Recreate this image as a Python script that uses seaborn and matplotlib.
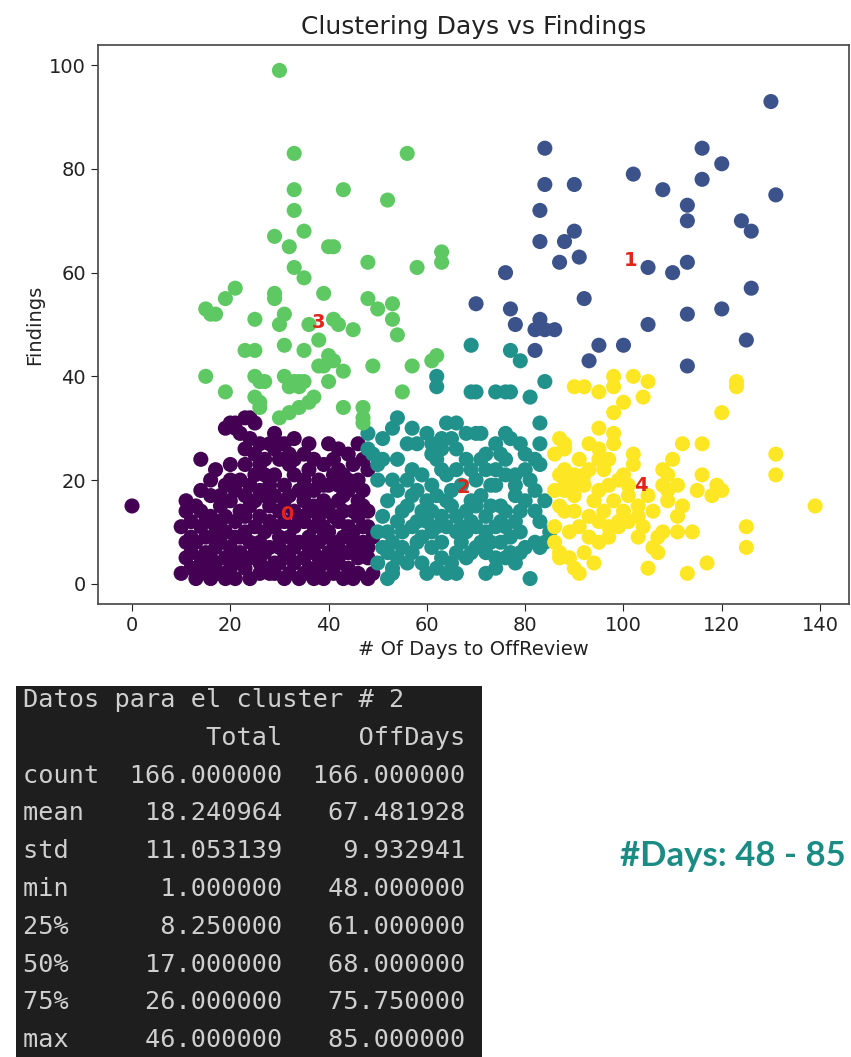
import matplotlib
matplotlib.use("Agg")
import matplotlib.pyplot as plt
import numpy as np
import pandas as pd
import seaborn as sns

# ---------------- data ----------------
# cluster 0 (purple): (days, findings)
cluster0_points = [
    (0, 15), (19, 30), (21, 31), (24, 32), (25, 31), (22, 29), (21, 30), (20, 31), (23, 32),
    (29, 29), (31, 27), (29, 26), (30, 27), (46, 27), (14, 24),
    (16, 20), (16, 17), (11, 16), (13, 15), (11, 14), (14, 11), (13, 8), (13, 3), (15, 6), (17, 9),
    (22, 20), (23, 23), (25, 25), (26, 23), (27, 21), (28, 19), (27, 17), (25, 16), (24, 15),
    (30, 24), (32, 23), (33, 24), (35, 25), (36, 22), (39, 23), (41, 24), (42, 22), (43, 21),
    (44, 20), (46, 20), (48, 22), (35, 20), (37, 18),
    (22, 14), (23, 13), (21, 12), (19, 13), (18, 12), (26, 13), (28, 12), (29, 11), (27, 10), (25, 11),
    (35, 16), (36, 14), (37, 15), (39, 16), (40, 15), (42, 16), (43, 17), (44, 18), (46, 16),
    (47, 15), (48, 14), (35, 12), (37, 11), (39, 11), (40, 10), (42, 12), (44, 11), (46, 13),
    (47, 11), (48, 11), (49, 9),
    (12, 3), (14, 5), (15, 3), (17, 4), (19, 5), (20, 3), (22, 4), (24, 5), (26, 4), (27, 6),
    (29, 4), (31, 6), (33, 7), (35, 5), (36, 3), (37, 6), (40, 6), (42, 4), (43, 6), (44, 3),
    (46, 5), (47, 6), (48, 5), (49, 2),
    (13, 1), (16, 1), (18, 2), (21, 1), (24, 1), (26, 2), (29, 2), (32, 2), (34, 1), (36, 2),
    (39, 1), (41, 2), (43, 1), (46, 2), (48, 1),
    (12, 9), (15, 9), (18, 8), (20, 7), (22, 9), (24, 8), (26, 8), (28, 7), (30, 9), (32, 9),
    (34, 8), (36, 9), (38, 8), (41, 8), (43, 9), (45, 8), (47, 8), (17, 11), (19, 10), (31, 12),
    (33, 11), (33, 14), (31, 16), (30, 14), (28, 15), (20, 16), (18, 15), (21, 18), (19, 19),
    (14, 18), (24, 19), (25, 21), (29, 21), (31, 19), (33, 21), (34, 18), (38, 20), (40, 19),
    (41, 21), (45, 23), (47, 24), (27, 24), (40, 27), (36, 27), (33, 28), (44, 25), (38, 13),
    (45, 14), (20, 23), (17, 22), (16, 13), (23, 10), (11, 5), (12, 12), (14, 14), (10, 11),
    (10, 2), (16, 5), (38, 3), (40, 4), (45, 10), (34, 13), (30, 7), (28, 2), (22, 6),
    (11, 8), (12, 6), (14, 2), (17, 2), (19, 1), (20, 5), (23, 3), (25, 6), (27, 3), (30, 4),
    (31, 1), (33, 4), (35, 2), (37, 1), (38, 5), (41, 5), (44, 6), (46, 7), (48, 7), (45, 1),
    (42, 7), (39, 9), (36, 7), (32, 5), (21, 9), (17, 7), (15, 12), (18, 17), (20, 20), (23, 17),
    (26, 18), (29, 17), (32, 17), (36, 18), (39, 19), (42, 19), (45, 19), (47, 18), (43, 14),
    (41, 13), (39, 14), (24, 28), (26, 27), (28, 27), (23, 26), (32, 25), (37, 24), (42, 26),
]

# cluster 1 (dark blue)
cluster1_points = [
    (130, 93), (84, 84), (116, 84), (120, 81), (84, 77), (90, 77), (102, 79), (108, 76),
    (116, 78), (131, 75), (83, 72), (113, 73), (113, 70), (124, 70), (126, 68), (90, 68),
    (88, 66), (83, 66), (87, 62), (91, 63), (105, 61), (110, 60), (113, 62), (76, 60),
    (92, 55), (126, 57), (70, 54), (77, 53), (78, 50), (83, 51), (82, 49), (84, 49), (86, 49),
    (113, 52), (120, 53), (105, 50), (125, 47), (95, 46), (100, 46), (93, 43), (113, 42), (82, 45),
]

# cluster 2 (teal)
cluster2_points = [
    (69, 46), (77, 45), (79, 43), (62, 40), (62, 38), (70, 37), (74, 37), (76, 37), (77, 37), (84, 39),
    (81, 36), (83, 31), (64, 31), (66, 31), (54, 32), (48, 29), (51, 28), (53, 30), (57, 30), (56, 27),
    (49, 25), (50, 23), (54, 24), (57, 22), (61, 27), (63, 28), (65, 28), (68, 29), (70, 29), (71, 29),
    (61, 25), (63, 26), (62, 24), (76, 29), (77, 28), (68, 24), (69, 22), (64, 21), (74, 27), (75, 25),
    (74, 22), (80, 25), (82, 24), (83, 23), (78, 21), (78, 19), (78, 17), (81, 20), (82, 18), (84, 16),
    (58, 18), (61, 19), (62, 17), (60, 16), (52, 16), (64, 16), (65, 15), (66, 13), (71, 17), (73, 19),
    (74, 19), (70, 15), (69, 12), (55, 14), (56, 15), (54, 12), (59, 14), (61, 14), (63, 13), (75, 15),
    (76, 14), (82, 14), (83, 12), (85, 10), (52, 10), (53, 8), (52, 6), (53, 3), (53, 2), (55, 10),
    (55, 7), (57, 6), (59, 9), (61, 10), (63, 8), (61, 7), (63, 5), (67, 8), (68, 10), (70, 7),
    (71, 8), (72, 10), (74, 11), (75, 12), (76, 11), (66, 6), (68, 5), (69, 6), (72, 6),
    (74, 5), (76, 5), (77, 6), (82, 8), (83, 7), (84, 8), (81, 1),
    (48, 26), (51, 24), (50, 20), (51, 13), (50, 10), (51, 7), (50, 4), (52, 1), (53, 20),
    (54, 18), (56, 20), (57, 17), (58, 12), (59, 4), (60, 2), (62, 3), (64, 2), (65, 4), (66, 2),
    (67, 11), (68, 14), (70, 11), (72, 13), (73, 15), (72, 2), (74, 3), (75, 8), (77, 9), (78, 12),
    (79, 10), (80, 7), (78, 4), (79, 14), (80, 16), (80, 22), (83, 27), (79, 27), (72, 25), (72, 22),
    (66, 22), (66, 26), (67, 19), (70, 20), (71, 24), (76, 21), (76, 24), (60, 29), (58, 27),
    (59, 21), (63, 22), (65, 18), (57, 11), (60, 12), (64, 11), (66, 10), (73, 8), (79, 6),
    (58, 8), (56, 4), (54, 5), (69, 16), (62, 11), (69, 37),
]

# cluster 3 (green)
cluster3_points = [
    (30, 99), (33, 83), (56, 83), (33, 76), (43, 76), (52, 74), (33, 72), (35, 68), (29, 67),
    (32, 65), (40, 65), (41, 65), (48, 62), (58, 61), (63, 64), (63, 62), (33, 61), (35, 59),
    (21, 57), (19, 55), (29, 56), (29, 55), (39, 56), (48, 55), (50, 53), (53, 54), (53, 51),
    (54, 48), (15, 53), (17, 52), (16, 52), (25, 51), (31, 52), (30, 50), (36, 50), (41, 51),
    (42, 50), (45, 49), (38, 47), (23, 45), (25, 45), (31, 46), (35, 45), (40, 44), (39, 42),
    (41, 43), (43, 41), (40, 39), (38, 42), (49, 42), (57, 42), (62, 44), (61, 43), (15, 40),
    (19, 37), (25, 40), (26, 39), (27, 39), (31, 40), (33, 39), (34, 39), (35, 39), (32, 38),
    (34, 38), (25, 36), (26, 35), (26, 34), (30, 32), (32, 33), (34, 34), (36, 35), (37, 36),
    (43, 34), (47, 34), (47, 32), (47, 31), (55, 37),
]

# cluster 4 (yellow)
cluster4_points = [
    (90, 38), (92, 38), (95, 37), (98, 40), (98, 38), (102, 40), (105, 39), (104, 36), (123, 39),
    (123, 38), (120, 33), (98, 33), (95, 30), (98, 29), (98, 27), (88, 27), (88, 26), (91, 24),
    (95, 26), (95, 24), (96, 22), (102, 25), (102, 23), (112, 27), (116, 27), (110, 24), (108, 22),
    (109, 21), (116, 21), (131, 25), (131, 21),
    (88, 22), (88, 20), (88, 18), (90, 21), (90, 19), (92, 21), (92, 19), (90, 17),
    (95, 18), (97, 19), (99, 20), (100, 21), (101, 19), (108, 19), (109, 18), (111, 19), (109, 16),
    (119, 19), (118, 17), (120, 18), (139, 15), (112, 15),
    (98, 16), (101, 17), (103, 15), (103, 13), (101, 12), (99, 12), (88, 14), (90, 14), (86, 11),
    (89, 10), (91, 11), (93, 9), (95, 12), (97, 11), (99, 11), (95, 8), (97, 9), (87, 6), (89, 5),
    (90, 3), (91, 2), (103, 9), (106, 7), (107, 6), (107, 9), (108, 10), (111, 10), (114, 10),
    (105, 3), (113, 2), (117, 4), (125, 11), (125, 7),
    (87, 28), (86, 25), (87, 21), (86, 18), (87, 15), (86, 8), (87, 5),
    (93, 13), (94, 16), (96, 14), (100, 14), (105, 17), (106, 14), (93, 22), (93, 27), (100, 35),
    (97, 24), (104, 11), (92, 6), (94, 4), (111, 13), (115, 18),
]

# cluster centre labels
center_labels = ["0", "1", "2", "3", "4"]
center_days = [31.5, 101.5, 67.5, 38.0, 103.5]
center_findings = [13.3, 62.3, 18.5, 50.3, 19.0]

# summary table of cluster 2
table_title = "Datos para el cluster # 2"
table_columns = ["Total", "OffDays"]
stat_names = ["count", "mean", "std", "min", "25%", "50%", "75%", "max"]
stat_total = [166.0, 18.240964, 11.053139, 1.0, 8.25, 17.0, 26.0, 46.0]
stat_offdays = [166.0, 67.481928, 9.932941, 48.0, 61.0, 68.0, 75.75, 85.0]
days_range_text = "#Days: 48 - 85"

# ---------------- build frame ----------------
frames = []
for k, pts in enumerate([cluster0_points, cluster1_points, cluster2_points,
                         cluster3_points, cluster4_points]):
    arr = np.array(pts, dtype=float)
    frames.append(pd.DataFrame({"OffDays": arr[:, 0], "Total": arr[:, 1], "cluster": k}))
df = pd.concat(frames, ignore_index=True)

cmap = plt.get_cmap("viridis")
palette = {k: cmap(v) for k, v in zip(range(5), np.linspace(0, 1, 5))}

# ---------------- figure ----------------
fig = plt.figure(figsize=(8.51, 10.57), dpi=100)
ax = fig.add_axes([0.115, 0.4286, 0.883, 0.5288])

sns.scatterplot(data=df, x="OffDays", y="Total", hue="cluster", palette=palette,
                s=118, linewidth=0, legend=False, ax=ax)

for lab, cx, cy in zip(center_labels, center_days, center_findings):
    ax.text(cx, cy, lab, color="#e3241b", fontsize=14, fontweight="bold",
            ha="center", va="center")

ax.set_title("Clustering Days vs Findings", fontsize=18, color="#222222", pad=8)
ax.set_xlabel("# Of Days to OffReview", fontsize=14, color="#222222")
ax.set_ylabel("Findings", fontsize=14, color="#222222")
ax.set_xticks(range(0, 141, 20))
ax.set_yticks(range(0, 101, 20))
ax.tick_params(labelsize=14, colors="#222222", length=5)
for sp in ax.spines.values():
    sp.set_color("#444444")
    sp.set_linewidth(1.2)

# ---------------- table (dark console box) ----------------
W, H = 851.0, 1057.0
box = fig.add_axes([16 / W, 0, (482 - 16) / W, (1057 - 686) / H])
box.set_facecolor("#1e1e1e")
box.set_xticks([])
box.set_yticks([])
for sp in box.spines.values():
    sp.set_visible(False)

lines = [table_title,
         " " * 5 + "".join(f"{c:>12}" for c in table_columns)]
for n, t, o in zip(stat_names, stat_total, stat_offdays):
    lines.append(f"{n:<5}{t:>12.6f}{o:>12.6f}")

y0 = 700.0
step = 37.8
for i, line in enumerate(lines):
    fig.text(23 / W, 1 - (y0 + i * step) / H, line, family="DejaVu Sans Mono",
             fontsize=18.2, color="#cfcfcf", va="center", ha="left")

fig.text(733 / W, 1 - 856 / H, days_range_text, family="Lato", fontweight="bold",
         fontsize=25, color="#1b8c83", ha="center", va="center")

fig.savefig("out.png", dpi=100)
